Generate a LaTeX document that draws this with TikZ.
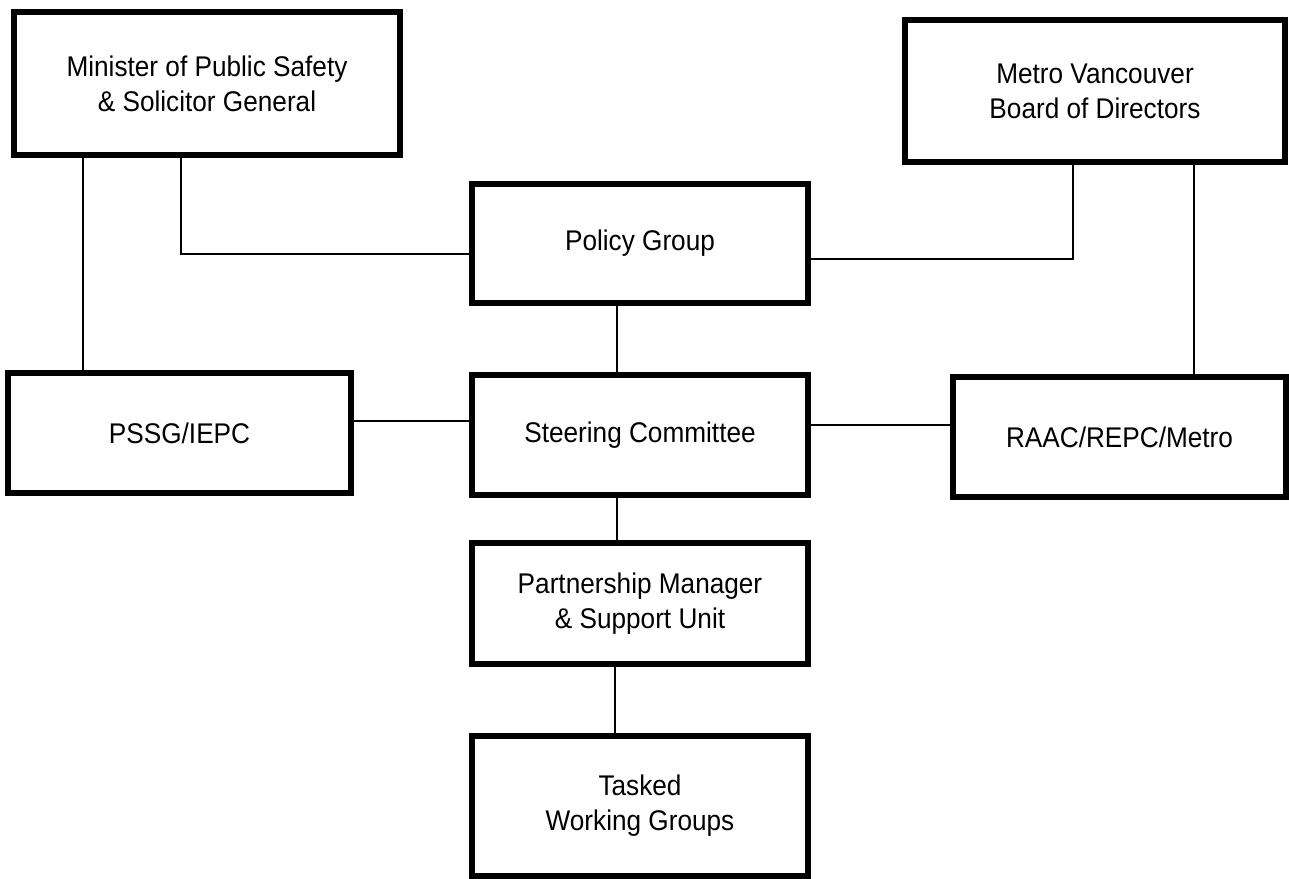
\documentclass[tikz,border=0pt]{standalone}
\usepackage{fontspec}
\setmainfont{Liberation Sans}[FakeStretch=0.92]
\usepackage{tikz}
\usetikzlibrary{positioning}
\tikzset{x = 0.02cm, y = -0.02cm,
         unit/.style = {draw, line width = 3.6pt, rectangle, inner sep = 0pt,
                        align = center, font = \fontsize{16.2}{20}\selectfont},
         link/.style = {draw, line width = 1.3pt}}

\begin{document}
\begin{tikzpicture}
        \useasboundingbox (0,0) rectangle (1289,879);

        \node[unit, minimum width = 7.72cm, minimum height = 2.86cm] (minister) at (207,83.5)   {Minister of Public Safety\\\& Solicitor General};
        \node[unit, minimum width = 7.60cm, minimum height = 2.84cm] (metro)    at (1095,91)    {Metro Vancouver\\Board of Directors};
        \node[unit, minimum width = 6.72cm, minimum height = 2.38cm] (policy)   at (640,243.5)  {Policy Group};
        \node[unit, minimum width = 6.86cm, minimum height = 2.40cm] (pssg)     at (179.5,433)  {PSSG/IEPC};
        \node[unit, minimum width = 6.72cm, minimum height = 2.40cm] (steering) at (640,435)    {Steering Committee};
        \node[unit, minimum width = 6.66cm, minimum height = 2.40cm] (raac)     at (1119.5,437) {RAAC/REPC/Metro};
        \node[unit, minimum width = 6.72cm, minimum height = 2.42cm] (partner)  at (640,603.5)  {Partnership Manager\\\& Support Unit};
        \node[unit, minimum width = 6.72cm, minimum height = 2.80cm] (tasked)   at (640,806)    {Tasked\\Working Groups};

        \path[link]     (83,0 |- minister.south)   --  (83,0 |- pssg.north);
        \path[link]     (181,0 |- minister.south)  |-  (policy.west |- 0,254);
        \path[link]     (policy.east |- 0,259)     -|  (1073,0 |- metro.south);
        \path[link]     (1194,0 |- metro.south)    --  (1194,0 |- raac.north);

        \path[link]     (617,0 |- policy.south)    --  (617,0 |- steering.north);
        \path[link]     (pssg.east |- 0,421)       --  (steering.west |- 0,421);
        \path[link]     (steering.east |- 0,425)   --  (raac.west |- 0,425);
        \path[link]     (617,0 |- steering.south)  --  (617,0 |- partner.north);
        \path[link]     (615,0 |- partner.south)   --  (615,0 |- tasked.north);
    \end{tikzpicture}
\end{document}
